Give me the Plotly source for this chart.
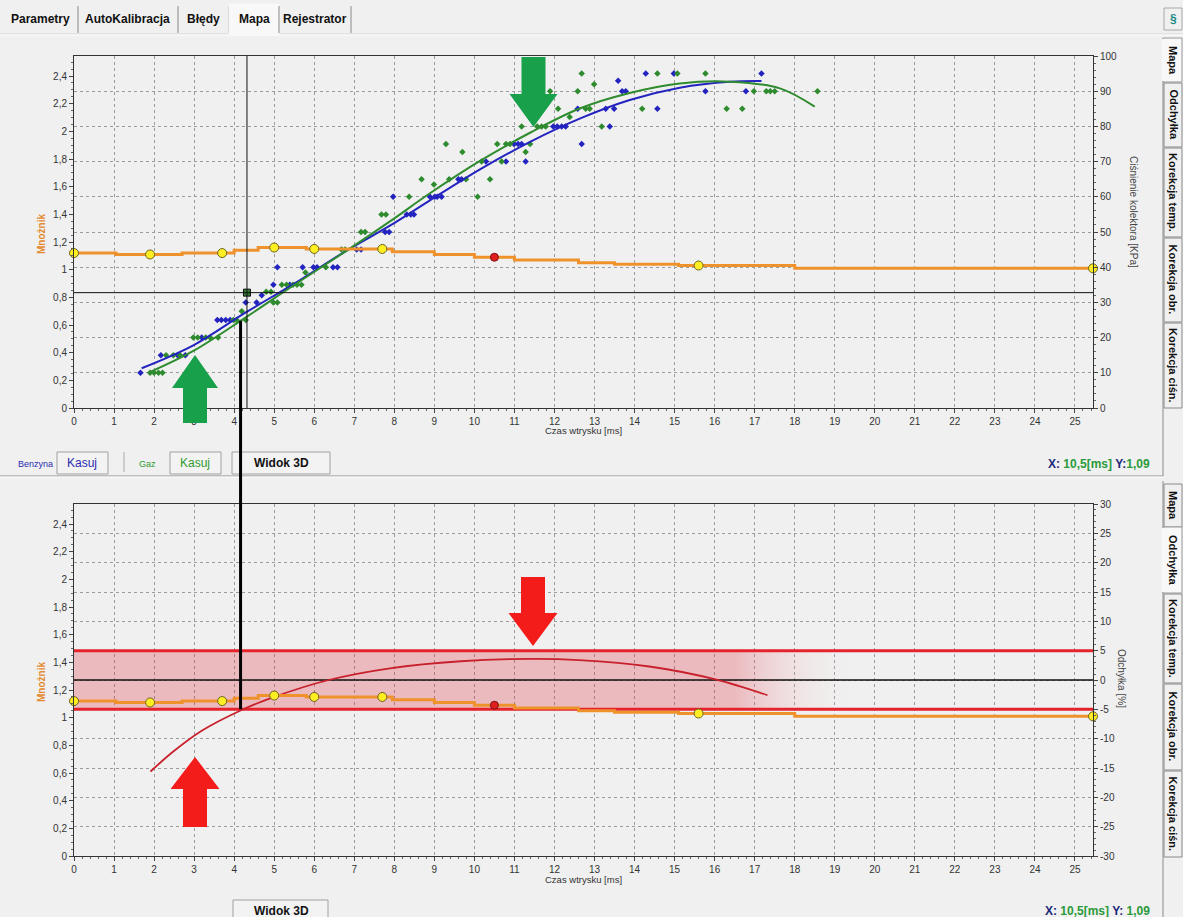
import plotly.graph_objects as go

W, H = 1183, 917
FONT = "Liberation Sans, Arial, sans-serif"

# ---------------- data ----------------
# Benzyna (petrol) samples: injection time [ms] vs manifold pressure [kPa]
benzyna_ms = [1.66, 2.17, 2.59, 2.78, 3.19, 3.58, 3.68, 3.79, 3.90, 4.29, 4.56, 4.69, 4.98, 5.39, 5.08, 5.71, 5.98, 6.07,
              6.47, 6.58, 7.06, 7.17, 7.77, 7.87,
              8.31, 8.41, 8.49, 7.97, 8.89, 9.01, 9.07, 9.18, 9.60, 9.68, 10.29, 10.79, 11.28, 10.99, 11.09, 11.18, 12.68,
              11.97, 12.07, 12.18, 12.28, 13.38, 12.58, 13.28, 13.49, 14.57, 13.69, 13.78, 15.77, 16.78, 13.59, 14.28, 14.98, 17.17]
benzyna_kpa = [10, 15, 15, 15, 20, 25, 25, 25, 25, 30, 30, 32, 35, 35, 40, 40, 40, 40,
               40, 40, 45, 45, 50, 50,
               55, 55, 55, 60, 60, 60, 60, 60, 65, 65, 70, 70, 70, 75, 75, 75, 75,
               80, 80, 80, 80, 80, 85, 85, 85, 85, 90, 90, 90, 90, 93, 95, 95, 95]

# Gaz (LPG) samples
gaz_ms = [1.90, 2.00, 2.11, 2.21, 2.30, 2.48, 2.65, 2.98, 3.09, 3.29, 3.40, 3.60, 3.98, 4.06, 4.29, 4.19,
          4.80, 4.92, 4.98, 5.08, 5.19, 5.31, 5.47, 5.57, 5.68, 5.78, 6.29, 6.68, 6.77, 7.17, 7.27,
          7.68, 7.79, 8.37, 10.08, 8.68, 9.37, 9.79, 10.39, 8.99, 10.18, 10.68, 9.70, 11.28,
          9.29, 10.57, 10.79, 10.89, 11.39, 11.18, 11.57, 11.68, 11.78, 13.18, 12.38, 12.09, 12.78, 12.88,
          14.19, 16.30, 16.69, 11.89, 12.58, 16.98, 17.29, 17.39, 17.50, 18.57, 12.99, 12.68, 14.57, 15.07, 15.77]
gaz_kpa = [10, 10, 10, 10, 15, 15, 15, 20, 20, 20, 20, 20, 25, 25, 25, 27.5,
           33, 33, 30, 30, 35, 35, 35, 35, 35, 38.5, 40, 45, 45, 50, 50,
           55, 55, 60, 60, 65, 65, 65, 65, 63.5, 70, 70, 72.7, 72.7,
           75, 75, 75, 75, 75, 80, 80, 80, 80, 80, 82.7, 85, 85, 85,
           85, 85, 85, 90, 90, 90, 90, 90, 90, 90, 92, 95, 95, 95, 95]

# Approximating curves
benzyna_fit_ms = [1.69, 2.98, 4.27, 5.48, 6.85, 7.89, 8.89, 10.14, 11.39, 12.63, 13.88, 15.13, 16.38, 17.17]
benzyna_fit_kpa = [11.3, 17.8, 27.0, 35.2, 45.0, 51.8, 59.0, 67.8, 75.6, 82.2, 87.5, 91.0, 92.7, 92.9]
gaz_fit_ms = [1.88, 2.98, 4.27, 5.48, 6.85, 7.89, 8.89, 10.14, 11.39, 12.63, 13.88, 15.13, 16.38, 17.63, 18.50]
gaz_fit_kpa = [10.1, 16.2, 25.6, 34.8, 45.0, 53.0, 61.0, 70.2, 78.2, 85.1, 89.5, 92.2, 92.7, 90.8, 85.6]

# Multiplier map (Mnożnik) and its nodes
mnoznik_ms = [0, 1.05, 2.7, 4.0, 4.6, 5.8, 7.95, 9.0, 10.0, 11.0, 12.6, 13.5, 15.1, 18.0, 25.45]
mnoznik_val = [1.12, 1.11, 1.12, 1.14, 1.16, 1.15, 1.13, 1.11, 1.09, 1.07, 1.05, 1.04, 1.03, 1.01, 1.01]
wezly_ms = [0, 1.9, 3.7, 5.0, 6.0, 7.7, 15.6, 25.45]
wezly_val = [1.12, 1.11, 1.12, 1.16, 1.15, 1.15, 1.03, 1.01]
aktywny_ms, aktywny_val = 10.5, 1.09

# Deviation (Odchyłka) curve [%]
odchylka_ms = [1.91, 2.48, 3.18, 4.16, 4.95, 6.36, 7.89, 9.66, 11.43, 12.61, 14.37, 16.02, 17.32]
odchylka_pct = [-15.6, -12.2, -8.7, -5.2, -3.0, 0.0, 2.0, 3.2, 3.6, 3.4, 2.3, 0.1, -2.6]
tolerancja = 5
pasmo_pelne_do, pasmo_koniec = 16.5, 19.6

# Cursors
kursor_ms, kursor_val = 4.32, 0.834
znacznik_ms, znacznik_od_val, znacznik_do_pct = 4.16, 0.63, -5

# Axes
X_RANGE = [0, 25.45]
x_ticks = list(range(0, 26))
mn_ticks = [0, 0.2, 0.4, 0.6, 0.8, 1.0, 1.2, 1.4, 1.6, 1.8, 2.0, 2.2, 2.4]
MN_RANGE = [0, 2.545]
kpa_ticks = list(range(0, 101, 10))
pct_ticks = list(range(-30, 31, 5))

tabs_top = ["Parametry", "AutoKalibracja", "Błędy", "Mapa", "Rejestrator"]
tabs_side = ["Mapa", "Odchyłka", "Korekcja temp.", "Korekcja obr.", "Korekcja ciśn."]


def fmt(v):
    s = ("%.1f" % v).rstrip("0").rstrip(".")
    return s.replace(".", ",")


# ---------------- layout geometry (pixels) ----------------
PX0, PX1 = 74, 1093
TOP_Y0, TOP_Y1 = 56, 408
BOT_Y0, BOT_Y1 = 504, 856


def px(x):
    return x / W


def py(y):
    return 1 - y / H


shapes, annotations = [], []


def rect(x0, y0, x1, y1, fill, line="#a0a0a0", lw=1):
    shapes.append(dict(type="rect", xref="paper", yref="paper", x0=px(x0), x1=px(x1),
                       y0=py(y1), y1=py(y0), fillcolor=fill, line=dict(color=line, width=lw), layer="above"))


def hline(x0, x1, y, color, lw=1):
    shapes.append(dict(type="line", xref="paper", yref="paper", x0=px(x0), x1=px(x1),
                       y0=py(y), y1=py(y), line=dict(color=color, width=lw), layer="above"))


def vline(x, y0, y1, color, lw=1):
    shapes.append(dict(type="line", xref="paper", yref="paper", x0=px(x), x1=px(x),
                       y0=py(y0), y1=py(y1), line=dict(color=color, width=lw), layer="above"))


def text(x, y, s, size=11, color="#000", angle=0, xanchor="center", family=FONT):
    annotations.append(dict(xref="paper", yref="paper", x=px(x), y=py(y), text=s, showarrow=False,
                            font=dict(size=size, color=color, family=family), textangle=angle,
                            xanchor=xanchor, yanchor="middle"))


def arrow(cx, tip, base, end, head_w, shaft_w, color):
    pts = [(cx, tip), (cx + head_w / 2, base), (cx + shaft_w / 2, base), (cx + shaft_w / 2, end),
           (cx - shaft_w / 2, end), (cx - shaft_w / 2, base), (cx - head_w / 2, base)]
    path = "M " + " L ".join("%.5f,%.5f" % (px(a), py(b)) for a, b in pts) + " Z"
    shapes.append(dict(type="path", xref="paper", yref="paper", path=path,
                       fillcolor=color, line=dict(width=0), layer="above"))


# ---------------- traces ----------------
fig = go.Figure()

ORANGE = "#f0922b"
BLUE = "#2323c0"
GREEN = "#2e8b2e"

# top panel: y = kPa (right), y2 = multiplier (left)
fig.add_trace(go.Scatter(x=benzyna_ms, y=benzyna_kpa, mode="markers", xaxis="x", yaxis="y",
                         marker=dict(symbol="diamond", size=5, color=BLUE)))
fig.add_trace(go.Scatter(x=gaz_ms, y=gaz_kpa, mode="markers", xaxis="x", yaxis="y",
                         marker=dict(symbol="diamond", size=5, color=GREEN)))
fig.add_trace(go.Scatter(x=benzyna_fit_ms, y=benzyna_fit_kpa, mode="lines", xaxis="x", yaxis="y",
                         line=dict(color=BLUE, width=2, shape="spline")))
fig.add_trace(go.Scatter(x=gaz_fit_ms, y=gaz_fit_kpa, mode="lines", xaxis="x", yaxis="y",
                         line=dict(color=GREEN, width=2, shape="spline")))

# bottom panel: y3 = deviation % (right), y4 = multiplier (left)
fade = pasmo_pelne_do / pasmo_koniec
fig.add_trace(go.Scatter(x=[0, pasmo_koniec, pasmo_koniec, 0],
                         y=[tolerancja, tolerancja, -tolerancja, -tolerancja],
                         mode="lines", fill="toself", line=dict(width=0), xaxis="x2", yaxis="y3",
                         fillgradient=dict(type="horizontal", start=0, stop=pasmo_koniec,
                                           colorscale=[[0, "rgba(222,40,55,0.27)"],
                                                       [fade, "rgba(222,40,55,0.27)"],
                                                       [1, "rgba(250,240,240,0.0)"]])))
for lvl, col, lw in [(tolerancja, "#e5232d", 3), (-tolerancja, "#e5232d", 3), (0, "#111111", 1.5)]:
    fig.add_trace(go.Scatter(x=X_RANGE, y=[lvl, lvl], mode="lines", xaxis="x2", yaxis="y3",
                             line=dict(color=col, width=lw)))
fig.add_trace(go.Scatter(x=odchylka_ms, y=odchylka_pct, mode="lines", xaxis="x2", yaxis="y3",
                         line=dict(color="#c8202c", width=1.8, shape="spline")))

for xa, ya in [("x", "y2"), ("x2", "y4")]:
    fig.add_trace(go.Scatter(x=mnoznik_ms, y=mnoznik_val, mode="lines", xaxis=xa, yaxis=ya,
                             line=dict(color=ORANGE, width=3, shape="hv")))
    fig.add_trace(go.Scatter(x=wezly_ms, y=wezly_val, mode="markers", xaxis=xa, yaxis=ya, cliponaxis=False,
                             marker=dict(symbol="circle", size=9, color="#ffee22",
                                         line=dict(color="#6b6320", width=1))))
    fig.add_trace(go.Scatter(x=[aktywny_ms], y=[aktywny_val], mode="markers", xaxis=xa, yaxis=ya,
                             marker=dict(symbol="circle", size=8, color="#e02020",
                                         line=dict(color="#7a1010", width=1))))

# cursor crosshair (top panel)
shapes.append(dict(type="line", xref="x", yref="y domain", x0=kursor_ms, x1=kursor_ms, y0=0, y1=1,
                   line=dict(color="#111", width=1), layer="above"))
shapes.append(dict(type="line", xref="x domain", yref="y2", x0=0, x1=1, y0=kursor_val, y1=kursor_val,
                   line=dict(color="#111", width=1), layer="above"))
fig.add_trace(go.Scatter(x=[kursor_ms], y=[kursor_val], mode="markers", xaxis="x", yaxis="y2",
                         marker=dict(symbol="square", size=7, color="#2f7a2f", line=dict(color="#111", width=1))))

# ---------------- axes ----------------
xdom = [px(PX0), px(PX1)]
top_dom = [py(TOP_Y1), py(TOP_Y0)]
bot_dom = [py(BOT_Y1), py(BOT_Y0)]

tickfont = dict(size=10, color="#333", family=FONT)
common = dict(showline=True, linecolor="#333", linewidth=1, ticks="outside", ticklen=4,
              tickcolor="#444", tickfont=tickfont, zeroline=False, fixedrange=True)
grid = dict(showgrid=True, gridcolor="#9c9c9c", gridwidth=1, griddash="3px,3px")

xaxis_cfg = dict(domain=xdom, range=X_RANGE, tickmode="array", tickvals=x_ticks,
                 ticktext=[str(t) for t in x_ticks], mirror=True,
                 minor=dict(dtick=0.2, ticks="outside", ticklen=2, tickcolor="#666", showgrid=False),
                 **grid, **common)
mn_cfg = dict(range=MN_RANGE, tickmode="array", tickvals=mn_ticks, ticktext=[fmt(v) for v in mn_ticks],
              side="left", showgrid=False,
              minor=dict(dtick=0.05, ticks="outside", ticklen=2, tickcolor="#666", showgrid=False), **common)

fig.update_layout(
    xaxis=dict(anchor="y", **xaxis_cfg),
    xaxis2=dict(anchor="y3", **xaxis_cfg),
    yaxis=dict(domain=top_dom, anchor="x", range=[0, 100], side="right", tickmode="array",
               tickvals=kpa_ticks, ticktext=[str(v) for v in kpa_ticks],
               minor=dict(dtick=2, ticks="outside", ticklen=2, tickcolor="#666", showgrid=False),
               **grid, **common),
    yaxis2=dict(overlaying="y", anchor="x", **mn_cfg),
    yaxis3=dict(domain=bot_dom, anchor="x2", range=[-30, 30], side="right", tickmode="array",
                tickvals=pct_ticks, ticktext=[str(v) for v in pct_ticks],
                minor=dict(dtick=1, ticks="outside", ticklen=2, tickcolor="#666", showgrid=False),
                **grid, **common),
    yaxis4=dict(overlaying="y3", anchor="x2", **mn_cfg),
)


def axis_to_paper(val, rng, dom):
    return dom[0] + (val - rng[0]) / (rng[1] - rng[0]) * (dom[1] - dom[0])


# ---------------- window chrome ----------------
# top tab bar
hline(0, W, 34, "#d4d4d4")
hline(0, W, 35, "#ffffff")
tab_x = [(3, 78), (78, 178), (178, 229), (229, 279), (279, 351)]
for (a, b), name in zip(tab_x, tabs_top):
    if name == "Mapa":
        rect(a, 4, b, 35, "#f8f8f8", line="#f8f8f8")
    vline(b, 6, 33, "#8a8a8a")
    text((a + b) / 2, 19, "<b>%s</b>" % name, size=12, color="#111")
rect(1164, 8, 1182, 30, "#f0f0f0", line="#a8a8a8")
text(1173, 19, "<b>§</b>", size=12, color="#1c8a8a")

# panel frames
vline(1163, 38, 476, "#8c8c8c")
hline(0, 1163, 476, "#8c8c8c")
hline(0, 1163, 477, "#ffffff")
vline(1163, 481, 917, "#8c8c8c")

# side tabs
side_top = [(38, 82), (82, 147), (147, 237), (237, 322), (322, 408)]
side_bot = [(483, 527), (527, 593), (593, 683), (683, 770), (770, 857)]
for spans, sel in [(side_top, "Mapa"), (side_bot, "Odchyłka")]:
    for (a, b), name in zip(spans, tabs_side):
        if name == sel:
            rect(1163, a, 1182, b, "#f8f8f8", line="#9a9a9a")
            vline(1163, a + 1, b - 1, "#f8f8f8", lw=2)
        else:
            rect(1164, a + 1, 1182, b, "#f0f0f0", line="#8a8a8a")
        text(1173, (a + b) / 2, "<b>%s</b>" % name, size=11, color="#111", angle=90)

# bottom bar of upper panel
text(35, 464, "Benzyna", size=9, color="#2b2bb0")
rect(57, 452, 108, 474, "#f3f3f3", line="#a0a0a0")
text(82, 463, "Kasuj", size=12, color="#2b2bb0")
vline(124, 452, 472, "#a8a8a8")
text(147, 464, "Gaz", size=9, color="#2e9a2e")
rect(170, 452, 221, 474, "#f3f3f3", line="#a0a0a0")
text(195, 463, "Kasuj", size=12, color="#2e9a2e")
rect(232, 452, 330, 474, "#f3f3f3", line="#a0a0a0")
text(281, 463, "<b>Widok 3D</b>", size=12, color="#111")
rect(233, 900, 328, 920, "#f3f3f3", line="#a0a0a0")
text(281, 911, "<b>Widok 3D</b>", size=12, color="#111")

status = ('<b><span style="color:#1c2a7a">X: </span><span style="color:#2a9a3a">%s[ms]</span>'
          '<span style="color:#1c2a7a"> Y:%s</span><span style="color:#2a9a3a">%s</span></b>')
y_txt = ("%.2f" % aktywny_val).replace(".", ",")
text(1152, 464, status % (fmt(aktywny_ms), "", y_txt), size=12, xanchor="right")
text(1152, 911, status % (fmt(aktywny_ms), " ", y_txt), size=12, xanchor="right")

# axis titles
text(41, 234, "<b>Mnożnik</b>", size=10, color="#e38a2c", angle=-90)
text(41, 682, "<b>Mnożnik</b>", size=10, color="#e38a2c", angle=-90)
text(1134, 212, "Ciśnienie kolektora [KPa]", size=10, color="#444", angle=90)
text(1122, 678, "Odchyłka [%]", size=10, color="#444", angle=90)
text(583, 431, "Czas wtrysku [ms]", size=9.5, color="#333")
text(583, 879, "Czas wtrysku [ms]", size=9.5, color="#333")

# highlight arrows
GREEN_ARROW, RED_ARROW = "#19a04b", "#f41b1b"
arrow(195, 355, 388, 423, 46, 24, GREEN_ARROW)
arrow(533.5, 127, 94, 57, 48, 24, GREEN_ARROW)
arrow(533, 646, 613, 577, 49, 24, RED_ARROW)
arrow(195, 757, 789, 827, 49, 24, RED_ARROW)

# marker line linking both panels
shapes.append(dict(type="line", xref="x", yref="paper", x0=znacznik_ms, x1=znacznik_ms,
                   y0=axis_to_paper(znacznik_od_val, MN_RANGE, top_dom),
                   y1=axis_to_paper(znacznik_do_pct, [-30, 30], bot_dom),
                   line=dict(color="#000", width=3), layer="above"))

fig.update_layout(
    width=W, height=H, margin=dict(l=0, r=0, t=0, b=0, autoexpand=False),
    paper_bgcolor="#f0f0f0", plot_bgcolor="#f0f0f0",
    showlegend=False, hovermode=False,
    shapes=shapes, annotations=annotations,
    font=dict(family=FONT),
)

fig.write_html("out.html", config={"displayModeBar": False, "staticPlot": True})
